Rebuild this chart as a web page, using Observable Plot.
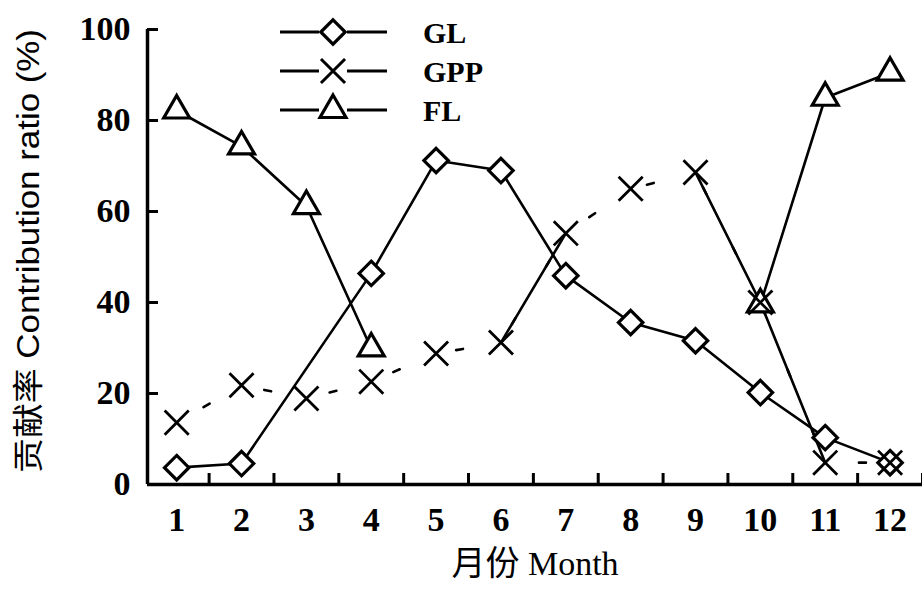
<!DOCTYPE html>
<html><head><meta charset="utf-8">
<script src="https://cdn.jsdelivr.net/npm/d3@7"></script>
<script src="https://cdn.jsdelivr.net/npm/@observablehq/plot@0.6"></script>
<style>
body{margin:0;background:#fff;}
#wrap{position:relative;width:922px;height:594px;}
#legend{position:absolute;left:0;top:0;pointer-events:none;}
</style></head><body><div id="wrap"></div>
<script>
// ---- data ----
const months = [1,2,3,4,5,6,7,8,9,10,11,12];
const monthLabels = ["1","2","3","4","5","6","7","8","9","10","11","12"];
const GL  = [3.7, 4.6, null, 46.4, 71.2, 69.0, 45.9, 35.6, 31.6, 20.2, 10.3, 4.8];
const GPP = [13.6, 21.8, 18.9, 22.6, 28.8, 31.2, 55.2, 65.0, 68.6, 40.0, 4.8, 4.8];
const FL  = [82.2, 74.3, 61.2, 29.9, null, null, null, null, null, 39.6, 85.0, 90.5];
const yTicks = [0, 20, 40, 60, 80, 100];
const seriesNames = ["GL", "GPP", "FL"];
const xLabel = "月份 Month";
const yLabel = "贡献率 Contribution ratio (%)";

// ---- build table ----
const num = v => v == null ? NaN : v;
const rows = months.map((m, i) => ({month: m, GL: num(GL[i]), GPP: num(GPP[i]), FL: num(FL[i])}));
const boundaries = months.map(m => m + 0.5);
const xDomain = [0.55, 12.5];
const serif = "'Liberation Serif','Noto Sans CJK SC',serif";
const solidGppGroups = [[6, 7], [9, 10, 11]];
const groupOf = m => solidGppGroups.findIndex(g => g.includes(m));

const plot = Plot.plot({
  width: 922, height: 594,
  marginLeft: 147, marginRight: 0, marginTop: 29, marginBottom: 110,
  x: {domain: xDomain},
  y: {domain: [0, 100]},
  style: {fontFamily: serif, background: "white", color: "black", overflow: "visible"},
  marks: [
    Plot.axisX({ticks: months, tickSize: 0, tickPadding: 22, fontSize: 34, fontWeight: "bold",
      tickFormat: d => monthLabels[months.indexOf(d)], label: null}),
    Plot.axisY({ticks: yTicks, tickSize: 0, tickPadding: 17, fontSize: 34, fontWeight: "bold", label: null}),
    Plot.axisX({ticks: boundaries, tickSize: 11, dy: -11, strokeWidth: 3, tickFormat: () => "", label: null}),
    Plot.axisY({ticks: yTicks, tickSize: 11, dx: 11, strokeWidth: 3, tickFormat: () => "", label: null}),
    Plot.ruleX([xDomain[0]], {strokeWidth: 3.5}),
    Plot.ruleY([0], {strokeWidth: 3.5}),
    // lines
    Plot.line(rows, {x: "month", y: "GL", filter: d => !isNaN(d.GL), stroke: "black", strokeWidth: 2.6}),
    Plot.line(rows, {x: "month", y: "FL", stroke: "black", strokeWidth: 2.6}),
    Plot.line(rows, {x: "month", y: "GPP", stroke: "black", strokeWidth: 2.6, strokeDasharray: "7,60", strokeDashoffset: 36}),
    Plot.line(rows, {x: "month", y: "GPP", filter: d => groupOf(d.month) >= 0, z: d => groupOf(d.month), stroke: "black", strokeWidth: 2.6}),
    // markers
    Plot.dot(rows, {x: "month", y: "GL", symbol: "diamond2", r: 11, fill: "white", stroke: "black", strokeWidth: 3.2}),
    Plot.dot(rows, {x: "month", y: "FL", symbol: "triangle2", r: 12.4, fill: "white", stroke: "black", strokeWidth: 3.2}),
    Plot.dot(rows, {x: "month", y: "GPP", symbol: "times", r: 11, stroke: "black", strokeWidth: 2.8}),
    // axis titles
    Plot.text([yLabel], {text: d => d, frameAnchor: "left", textAnchor: "middle", rotate: -90, dx: -118, dy: -6, fontSize: 31,
      fontFamily: "'Liberation Sans','Noto Sans CJK SC',sans-serif"}),
    Plot.text([xLabel], {text: d => d, frameAnchor: "bottom", lineAnchor: "middle", dy: 80, fontSize: 34})
  ]
});
const wrap = document.getElementById("wrap");
wrap.appendChild(plot);
// stretch the y title to the reference length
d3.select(plot).selectAll("text").filter(function() { return this.textContent === yLabel; })
  .attr("textLength", 444).attr("lengthAdjust", "spacingAndGlyphs");

// ---- legend overlay ----
const symbols = {GL: [d3.symbolDiamond2, 11], GPP: [d3.symbolTimes, 11], FL: [d3.symbolTriangle2, 12.4]};
const lg = d3.select(wrap).append("svg").attr("id", "legend").attr("width", 922).attr("height", 594);
seriesNames.forEach((name, i) => {
  const y = 32 + i * 39;
  const g = lg.append("g");
  g.append("line").attr("x1", 280).attr("x2", 319).attr("y1", y).attr("y2", y).attr("stroke", "black").attr("stroke-width", 2.8);
  g.append("line").attr("x1", 347).attr("x2", 387).attr("y1", y).attr("y2", y).attr("stroke", "black").attr("stroke-width", 2.8);
  const [sym, r] = symbols[name];
  g.append("path").attr("transform", `translate(333,${y})`)
    .attr("d", d3.symbol(sym, Math.PI * r * r)())
    .attr("fill", name === "GPP" ? "none" : "white").attr("stroke", "black").attr("stroke-width", name === "GPP" ? 3 : 3.2);
  g.append("text").attr("x", 423).attr("y", y).attr("dy", "0.35em").attr("font-size", 30).attr("font-weight", "bold")
    .attr("font-family", serif).text(name);
});
</script>
</body></html>
